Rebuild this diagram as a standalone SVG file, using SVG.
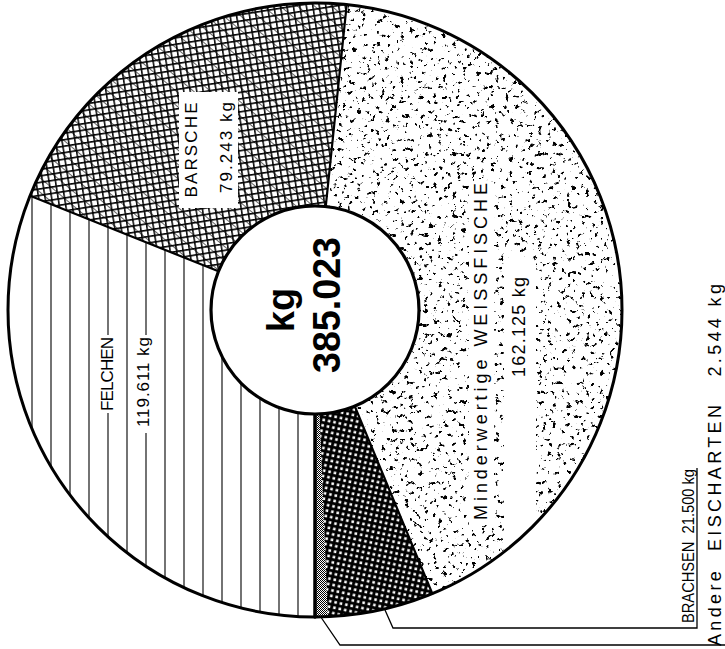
<svg xmlns="http://www.w3.org/2000/svg" width="725" height="649" viewBox="0 0 725 649">
<style>
text{font-family:"Liberation Sans",Arial,sans-serif;fill:#000}
.lbl{font-size:17px}
.lbl2{font-size:18px}
.big{font-size:38px;font-weight:bold}
.bnd{stroke:#000;fill:none;stroke-linecap:round}
.con{stroke:#000;stroke-width:1.3;fill:none}
.hl{stroke:#000;stroke-width:1.1}
</style>
<defs>
<pattern id="pBar" width="6.4" height="6.4" patternUnits="userSpaceOnUse" patternTransform="rotate(-9)">
<rect width="6.4" height="6.4" fill="#fff"/>
<path d="M0 0.8H6.4M0.8 0V6.4" stroke="#000" stroke-width="1.5"/>
</pattern>
<pattern id="pBar2" width="11" height="11" patternUnits="userSpaceOnUse" patternTransform="rotate(40)">
<path d="M0 0.5H11" stroke="#000" stroke-width="0.6"/>
</pattern>
<pattern id="pBra" width="5.5" height="5.5" patternUnits="userSpaceOnUse" patternTransform="rotate(12)">
<rect width="5.5" height="5.5" fill="#000"/>
<rect x="1.2" y="1.2" width="2.6" height="2.6" fill="#fff"/>
</pattern>
<pattern id="pAnd" width="2" height="2" patternUnits="userSpaceOnUse">
<rect width="2" height="2" fill="#fff"/>
<rect width="1" height="1" fill="#000"/>
<rect x="1" y="1" width="1" height="1" fill="#000"/>
</pattern>
<filter id="fSpeck" x="0" y="0" width="1" height="1" color-interpolation-filters="sRGB">
<feTurbulence type="fractalNoise" baseFrequency="0.21" numOctaves="4" seed="5" result="n"/>
<feColorMatrix in="n" type="matrix" values="0 0 0 0 0  0 0 0 0 0  0 0 0 0 0  1 0 0 0 0"/>
<feComponentTransfer><feFuncA type="linear" slope="14" intercept="-8.95"/></feComponentTransfer>
</filter>
<clipPath id="cWei"><path d="M346.71,4.65 A307,307 0 0 1 432.37,593.67 L354.76,406.10 A104,104 0 0 0 325.74,206.56 Z"/></clipPath>
<clipPath id="cFel"><path d="M315,617 A307,307 0 0 1 30.04,195.8 L218.47,271.31 A104,104 0 0 0 315,414 Z"/></clipPath>
</defs>
<rect width="725" height="649" fill="#fff"/>

<g id="felchen">
<path d="M315,617 A307,307 0 0 1 30.04,195.8 L218.47,271.31 A104,104 0 0 0 315,414 Z" fill="#fff"/>
<g clip-path="url(#cFel)" class="hl">
<path d="M32 150V620M51 150V620M70 150V620M89 150V620M108 150V620M127 150V620M146 150V620M165 150V620M184 150V620M203 150V620M222 150V620M241 150V620M260 150V620M279 150V620M298 150V620"/>
</g>
<rect x="99" y="335" width="17" height="78" fill="#fff"/>
<rect x="136" y="335" width="17" height="98" fill="#fff"/>
<text class="lbl" transform="translate(113,374) rotate(-90)" text-anchor="middle" textLength="74" lengthAdjust="spacing">FELCHEN</text>
<text class="lbl" transform="translate(149,382) rotate(-90)" text-anchor="middle" textLength="90" lengthAdjust="spacing">119.611 kg</text>
</g>

<g id="barsche">
<path d="M30.04,195.8 A307,307 0 0 1 346.71,4.65 L325.74,206.56 A104,104 0 0 0 218.47,271.31 Z" fill="url(#pBar)"/>
<path d="M30.04,195.8 A307,307 0 0 1 346.71,4.65 L325.74,206.56 A104,104 0 0 0 218.47,271.31 Z" fill="url(#pBar2)"/>
<rect x="179" y="92" width="59" height="116" fill="#fff"/>
<text class="lbl" transform="translate(197,150) rotate(-90)" text-anchor="middle" textLength="95" lengthAdjust="spacing">BARSCHE</text>
<text class="lbl" transform="translate(232,147.5) rotate(-90)" text-anchor="middle" textLength="91" lengthAdjust="spacing">79.243 kg</text>
</g>

<g id="weissfische">
<path d="M346.71,4.65 A307,307 0 0 1 432.37,593.67 L354.76,406.10 A104,104 0 0 0 325.74,206.56 Z" fill="#fff"/>
<g clip-path="url(#cWei)">
<rect x="310" y="0" width="330" height="620" fill="#fff" filter="url(#fSpeck)"/>
</g>
<rect x="469" y="181" width="25" height="344" rx="4" fill="#fff"/>
<rect x="504" y="257" width="32" height="290" rx="7" fill="#fff"/>
<text class="lbl2" transform="translate(487,351.5) rotate(-90)" text-anchor="middle" textLength="337" lengthAdjust="spacing">Minderwertige WEISSFISCHE</text>
<text class="lbl2" transform="translate(525,327) rotate(-90)" text-anchor="middle" textLength="100" lengthAdjust="spacing">162.125 kg</text>
</g>

<g id="brachsen">
<path d="M432.37,593.67 A307,307 0 0 1 327.75,616.74 L319.32,413.91 A104,104 0 0 0 354.76,406.10 Z" fill="url(#pBra)"/>
<text transform="translate(694,546) rotate(-90)" text-anchor="middle" font-size="17" textLength="154" lengthAdjust="spacingAndGlyphs">BRACHSEN&#160;&#160;21.500 kg</text>
</g>

<g id="andere">
<path d="M327.75,616.74 A307,307 0 0 1 315,617 L315,414 A104,104 0 0 0 319.32,413.91 Z" fill="url(#pAnd)"/>
<text transform="translate(720.5,465) rotate(-90)" text-anchor="middle" font-size="18" textLength="362" lengthAdjust="spacing">Andere&#160;&#160;EISCHARTEN&#160;&#160;&#160;2.544 kg</text>
</g>

<g id="boundaries">
<line class="bnd" x1="315" y1="414" x2="315" y2="617" stroke-width="3.5"/>
<line class="bnd" x1="354.76" y1="406.1" x2="432.37" y2="593.67" stroke-width="2.2"/>
<line class="bnd" x1="325.74" y1="206.56" x2="346.71" y2="4.65" stroke-width="2.2"/>
<line class="bnd" x1="218.47" y1="271.31" x2="30.04" y2="195.8" stroke-width="2.2"/>
<circle cx="315" cy="310" r="307" fill="none" stroke="#000" stroke-width="3"/>
</g>

<g id="total">
<circle cx="315" cy="310" r="104" fill="#fff" stroke="#000" stroke-width="3.2"/>
<text class="big" transform="translate(294,310) rotate(-90)" text-anchor="middle">kg</text>
<text class="big" transform="translate(340,305) rotate(-90)" text-anchor="middle" font-size="37" textLength="136" lengthAdjust="spacingAndGlyphs">385.023</text>
</g>

<g id="connectors">
<polyline class="con" points="385,610 393,628 697,628 697,468"/>
<polyline class="con" points="321.5,618 340,645 725,645"/>
</g>
</svg>
